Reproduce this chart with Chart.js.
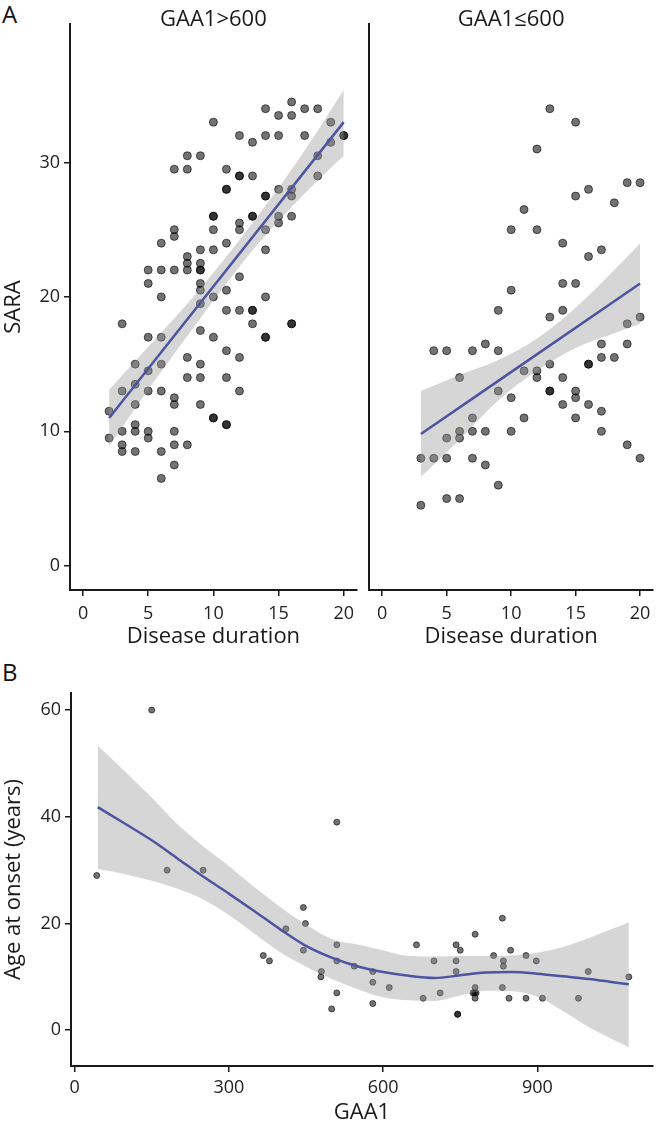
<!DOCTYPE html>
<html>
<head>
<meta charset="utf-8">
<script src="https://cdn.jsdelivr.net/npm/chart.js"></script>
<style>
  body { margin: 0; background: #fff; }
  #fig { position: relative; width: 658px; height: 1123px; font-family: 'Open Sans', sans-serif; }
  #fig canvas { position: absolute; }
  .tag { position: absolute; font-size: 24px; line-height: 24px; color: #111; }
</style>
</head>
<body>
<div id="fig">
  <div class="tag" style="left:2px;top:2px">A</div>
  <div class="tag" style="left:2px;top:660px">B</div>
  <canvas id="aHigh" style="left:0;top:0" width="362" height="660"></canvas>
  <canvas id="aLow" style="left:362px;top:0" width="296" height="660"></canvas>
  <canvas id="bOnset" style="left:0;top:660px" width="658" height="463"></canvas>
</div>
<script>
// ---- panel A: disease duration vs SARA score ----
const durTicks = [0, 5, 10, 15, 20];
const saraTicks = [0, 10, 20, 30];

// GAA1 > 600
const durHigh = [14, 16, 17, 18, 15, 16, 10, 19, 12, 14, 15, 17, 20, 20, 13, 19, 8, 9, 18, 7,
  8, 11, 12, 12, 13, 18, 11, 11, 15, 16, 14, 14, 16, 10, 10, 13, 13, 15, 16, 12,
  15, 7, 10, 12, 14, 7, 6, 11, 8, 9, 10, 14, 8, 9, 5, 6, 7, 8, 9, 9,
  5, 9, 12, 9, 11, 6, 10, 14, 9, 11, 12, 13, 13, 3, 13, 16, 16, 9, 5, 6,
  10, 14, 14, 11, 8, 12, 4, 6, 9, 5, 8, 9, 11, 3, 4, 5, 6, 12, 7, 7,
  4, 9, 2, 10, 10, 11, 11, 4, 5, 3, 4, 7, 2, 5, 3, 7, 8, 3, 4, 6,
  7, 6];
const saraHigh = [34, 34.5, 34, 34, 33.5, 33.5, 33, 33, 32, 32, 32, 32, 32, 32, 31.5, 31.5, 30.5, 30.5, 30.5, 29.5,
  29.5, 29.5, 29, 29, 29, 29, 28, 28, 28, 28, 27.5, 27.5, 27.5, 26, 26, 26, 26, 26, 26, 25.5,
  25.5, 25, 25, 25, 25, 24.5, 24, 24, 23, 23.5, 23.5, 23.5, 22.5, 22.5, 22, 22, 22, 22, 22, 22,
  21, 21, 21.5, 20.5, 20.5, 20, 20, 20, 19.5, 19, 19, 19, 19, 18, 18, 18, 18, 17.5, 17, 17,
  17, 17, 17, 16, 15.5, 15.5, 15, 15, 15, 14.5, 14, 14, 14, 13, 13.5, 13, 13, 13, 12.5, 12,
  12, 12, 11.5, 11, 11, 10.5, 10.5, 10.5, 10, 10, 10, 10, 9.5, 9.5, 9, 9, 9, 8.5, 8.5, 8.5,
  7.5, 6.5];
const fitHighX = [2, 20];
const fitHighY = [11.0, 33.0];
const bandHighX = [2, 5, 8, 11, 14, 17, 20];
const bandHighLo = [8.9, 13.1, 17.1, 21.0, 24.6, 27.7, 30.5];
const bandHighHi = [13.1, 16.3, 19.5, 23.0, 26.8, 30.9, 35.4];

// GAA1 <= 600
const durLow = [13, 15, 12, 19, 20, 16, 15, 18, 11, 10, 12, 14, 16, 17, 14, 15, 10, 9, 14, 13,
  20, 19, 17, 19, 4, 5, 7, 8, 9, 17, 18, 16, 16, 13, 6, 11, 12, 12, 14, 9,
  13, 13, 15, 10, 15, 14, 16, 17, 11, 15, 7, 6, 7, 8, 10, 17, 5, 6, 19, 3,
  4, 5, 7, 20, 8, 9, 5, 6, 3];
const saraLow = [34, 33, 31, 28.5, 28.5, 28, 27.5, 27, 26.5, 25, 25, 24, 23, 23.5, 21, 21, 20.5, 19, 19, 18.5,
  18.5, 18, 16.5, 16.5, 16, 16, 16, 16.5, 16, 15.5, 15.5, 15, 15, 15, 14, 14.5, 14.5, 14, 14, 13,
  13, 13, 13, 12.5, 12.5, 12, 12, 11.5, 11, 11, 11, 10, 10, 10, 10, 10, 9.5, 9.5, 9, 8,
  8, 8, 8, 8, 7.5, 6, 5, 5, 4.5];
const fitLowX = [3, 20];
const fitLowY = [9.8, 21.0];
const bandLowX = [3, 6, 9, 12, 15, 18, 20];
const bandLowLo = [6.6, 9.4, 12.3, 14.5, 16.2, 17.3, 18.0];
const bandLowHi = [13.0, 14.2, 15.3, 16.9, 19.2, 22.0, 24.0];

// ---- panel B: GAA1 vs age at onset ----
const gaaTicks = [0, 300, 600, 900];
const onsetTicks = [0, 20, 40, 60];
const gaa1 = [43, 150, 180, 250, 367, 379, 411, 445, 449, 445, 510, 510, 510, 544, 480, 479, 510, 500, 580, 580,
  580, 612, 665, 699, 678, 711, 742, 750, 742, 742, 745, 745, 779, 779, 775, 778, 781, 779, 832, 848,
  815, 834, 834, 832, 845, 878, 898, 878, 910, 999, 980, 1078];
const onset = [29, 60, 30, 30, 14, 13, 19, 23, 20, 15, 39, 16, 13, 12, 11, 10, 7, 4, 11, 9,
  5, 8, 16, 13, 6, 7, 16, 15, 13, 11, 3, 3, 18, 8, 7, 7, 7, 6, 21, 15,
  14, 13, 12, 8, 6, 14, 13, 6, 6, 11, 6, 10];
const loessX = [45, 100, 150, 200, 250, 300, 350, 400, 450, 500, 553, 600, 650, 700, 750, 800, 850, 900, 950, 1000, 1040, 1078];
const loessY = [41.8, 38.6, 35.6, 32.2, 28.8, 25.6, 22.3, 18.9, 15.8, 13.6, 11.9, 10.9, 10.2, 9.8, 10.3, 10.8, 10.9, 10.6, 10.1, 9.6, 9.1, 8.6];
const loessLo = [30.2, 29.2, 28.0, 26.5, 24.5, 21.6, 18.1, 14.6, 11.9, 9.6, 7.6, 6.2, 5.6, 5.5, 6.5, 7.4, 7.3, 6.3, 3.6, 0.6, -1.4, -3.2];
const loessHi = [53.3, 48.3, 43.6, 38.6, 34.5, 30.8, 26.8, 23.1, 19.8, 17.1, 16.0, 15.0, 13.9, 13.8, 13.9, 13.9, 14.0, 14.5, 15.6, 17.3, 18.8, 20.2];

const ink = '#1a1a1a';
const fitBlue = '#4b55a0';
const bandGrey = 'rgba(153,153,153,0.4)';
const none = 'rgba(0,0,0,0)';

Chart.defaults.font.family = "'Open Sans', sans-serif";
Chart.defaults.color = ink;

function pts(xs, ys) {
  return xs.map((x, i) => ({ x, y: ys[i] }));
}

// points under a translucent CI ribbon, fitted line on top
function layers(px, py, r, bx, lo, hi, fx, fy) {
  return [
    { type: 'scatter', data: pts(px, py), pointRadius: r, pointBackgroundColor: 'rgba(0,0,0,0.55)',
      pointBorderColor: 'rgba(0,0,0,0.6)', pointBorderWidth: 1, order: 3 },
    { type: 'line', data: pts(bx, lo), borderColor: none, borderWidth: 0, pointRadius: 0,
      fill: false, cubicInterpolationMode: 'monotone', order: 2 },
    { type: 'line', data: pts(bx, hi), borderColor: none, borderWidth: 0, pointRadius: 0,
      fill: '-1', backgroundColor: bandGrey, cubicInterpolationMode: 'monotone', order: 2 },
    { type: 'line', data: pts(fx, fy), borderColor: fitBlue, borderWidth: 2.5, pointRadius: 0,
      fill: false, cubicInterpolationMode: 'monotone', order: 1 },
  ];
}

function xAxis(min, max, ticks, title, h, tickPad, titlePad) {
  return {
    type: 'linear', min, max,
    afterBuildTicks: (s) => { s.ticks = ticks.map((v) => ({ value: v })); },
    afterFit: (s) => { s.height = h; s.paddingLeft = 0; s.paddingRight = 0; },
    grid: { drawOnChartArea: false, tickLength: 6, color: ink, lineWidth: 1.5 },
    border: { color: ink, width: 2 },
    ticks: { color: '#222', font: { size: 18 }, padding: tickPad, maxRotation: 0, autoSkip: false },
    title: { display: true, text: title, color: ink, font: { size: 22 }, padding: { top: 0, bottom: titlePad } },
  };
}

function yAxis(min, max, ticks, title, w) {
  const ax = {
    type: 'linear', min, max,
    afterBuildTicks: (s) => { s.ticks = ticks.map((v) => ({ value: v })); },
    afterFit: (s) => { s.width = w; s.paddingTop = 0; s.paddingBottom = 0; },
    border: { color: ink, width: 2 },
  };
  if (title) {
    ax.grid = { drawOnChartArea: false, tickLength: 6, color: ink, lineWidth: 1.5 };
    ax.ticks = { color: '#222', font: { size: 18 }, padding: 4 };
    ax.title = { display: true, text: title, color: ink, font: { size: 22 }, padding: { top: 1, bottom: 0 } };
  } else {
    ax.grid = { drawOnChartArea: false, drawTicks: false };
    ax.ticks = { display: false };
  }
  return ax;
}

function plugins(title) {
  return {
    legend: { display: false },
    tooltip: { enabled: false },
    title: title
      ? { display: true, text: title, color: ink, fullSize: false,
          font: { size: 22, weight: 'normal' }, padding: { top: 6.8, bottom: -9.2 } }
      : { display: false },
  };
}

const common = { responsive: false, animation: false, devicePixelRatio: 1 };

new Chart(document.getElementById('aHigh'), {
  type: 'scatter',
  data: { datasets: layers(durHigh, saraHigh, 4, bandHighX, bandHighLo, bandHighHi, fitHighX, fitHighY) },
  options: {
    ...common,
    layout: { padding: { left: 0, top: 0, right: 5.2, bottom: 0 } },
    plugins: plugins('GAA1>600'),
    scales: {
      x: xAxis(-1, 21, durTicks, 'Disease duration', 70, 7, 9.8),
      y: yAxis(-1.8, 40.3, saraTicks, 'SARA', 70),
    },
  },
});

new Chart(document.getElementById('aLow'), {
  type: 'scatter',
  data: { datasets: layers(durLow, saraLow, 4, bandLowX, bandLowLo, bandLowHi, fitLowX, fitLowY) },
  options: {
    ...common,
    layout: { padding: { left: 0, top: 0, right: 3, bottom: 0 } },
    plugins: plugins('GAA1≤600'),
    scales: {
      x: xAxis(-1, 21, durTicks, 'Disease duration', 70, 7, 9.8),
      y: yAxis(-1.8, 40.3, saraTicks, null, 7.3),
    },
  },
});

new Chart(document.getElementById('bOnset'), {
  type: 'scatter',
  data: { datasets: layers(gaa1, onset, 3, loessX, loessLo, loessHi, loessX, loessY) },
  options: {
    ...common,
    layout: { padding: { left: 0, top: 33, right: 3.5, bottom: 0 } },
    plugins: plugins(null),
    scales: {
      x: xAxis(-7, 1125, gaaTicks, 'GAA1', 57, 5, -3.2),
      y: yAxis(-6.7, 63.2, onsetTicks, 'Age at onset (years)', 71),
    },
  },
});
</script>
</body>
</html>
